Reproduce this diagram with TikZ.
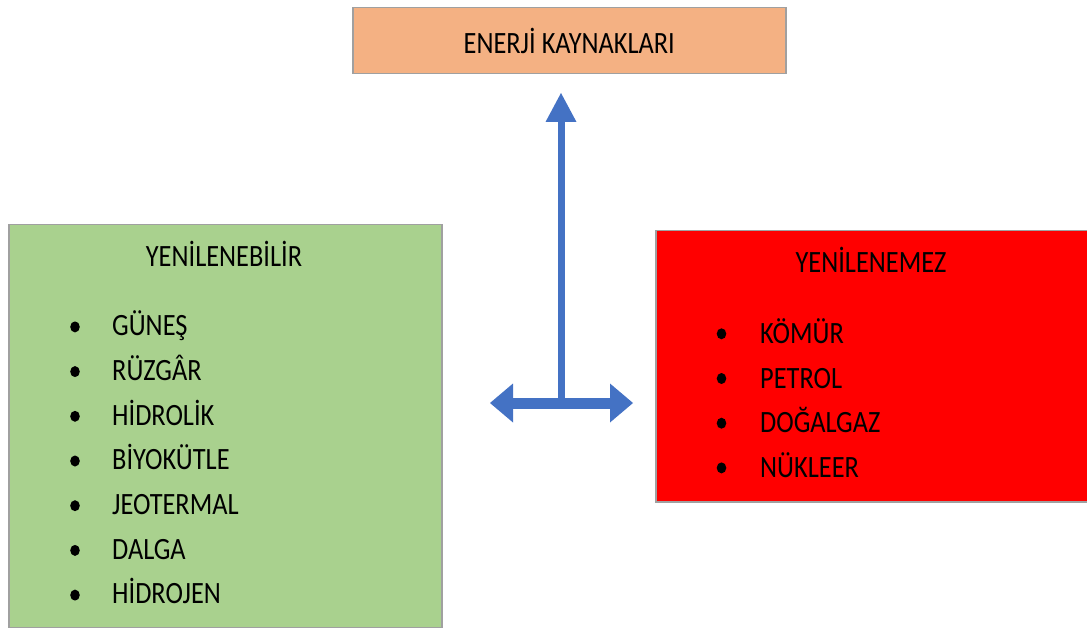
\documentclass[tikz,border=0pt]{standalone}
\usepackage{fontspec}
\setmainfont[FakeStretch=0.85]{Carlito}
\usepackage{tikz}
\usetikzlibrary{positioning}
\usetikzlibrary{arrows.meta}
\definecolor{topfill}{HTML}{F4B183}
\definecolor{greenfill}{HTML}{A9D18E}
\definecolor{redfill}{HTML}{FF0000}
\definecolor{arrowblue}{HTML}{4472C4}
\definecolor{boxline}{HTML}{A0A0A0}

\begin{document}
\begin{tikzpicture}[x=1pt,y=-1pt]
        \tikzset{box/.style={draw=boxline,line width=1.5pt,inner sep=0pt,anchor=north west,
                 font=\fontsize{31}{36}\selectfont}}
        \tikzset{txt/.style={inner sep=0pt,font=\fontsize{31}{36}\selectfont}}
        \tikzset{upshaft/.style={draw=arrowblue,line width=7pt,
                 -{Triangle[length=29pt,width=31pt,line width=0pt]}}}
        \tikzset{sideshaft/.style={draw=arrowblue,line width=11pt,
                 {Triangle[length=23pt,width=39pt,line width=0pt]}-{Triangle[length=23pt,width=39pt,line width=0pt]}}}

        \useasboundingbox (0,0) rectangle (1087,628);

        \node[box,fill=topfill,minimum width=433pt,minimum height=66pt] (top) at (352,7) {ENERJİ KAYNAKLARI};
        \node[box,fill=greenfill,minimum width=433pt,minimum height=403pt] (ren) at (8,224) {};
        \node[box,fill=redfill,minimum width=434pt,minimum height=271pt] (nonren) at (655,230) {};

        \node[txt,anchor=base] (renHead) at (224,267) {YENİLENEBİLİR};
        \foreach \name [count=\i] in {GÜNEŞ,RÜZGÂR,HİDROLİK,BİYOKÜTLE,JEOTERMAL,DALGA,HİDROJEN} {
            \node[txt,anchor=base west] (ren\i) at (112,{291+44.7*\i}) {\name};
            \fill (75,{291+44.7*\i-8.8}) ellipse [x radius=4.8pt,y radius=5.5pt];
        }

        \node[txt,anchor=base] (nonrenHead) at (871,272.3) {YENİLENEMEZ};
        \foreach \name [count=\i] in {KÖMÜR,PETROL,DOĞALGAZ,NÜKLEER} {
            \node[txt,anchor=base west] (nonren\i) at (760,{298.6+44.7*\i}) {\name};
            \fill (721.5,{298.6+44.7*\i-9.5}) ellipse [x radius=4.8pt,y radius=5.5pt];
        }

        \coordinate (hub) at (561,403);
        \coordinate (upTip) at (561,93);
        \coordinate (leftTip) at (490,403);
        \coordinate (rightTip) at (633,403);

        \draw[upshaft] (hub) -- (upTip);
        \draw[sideshaft] (leftTip) -- (rightTip);
\end{tikzpicture}
\end{document}
